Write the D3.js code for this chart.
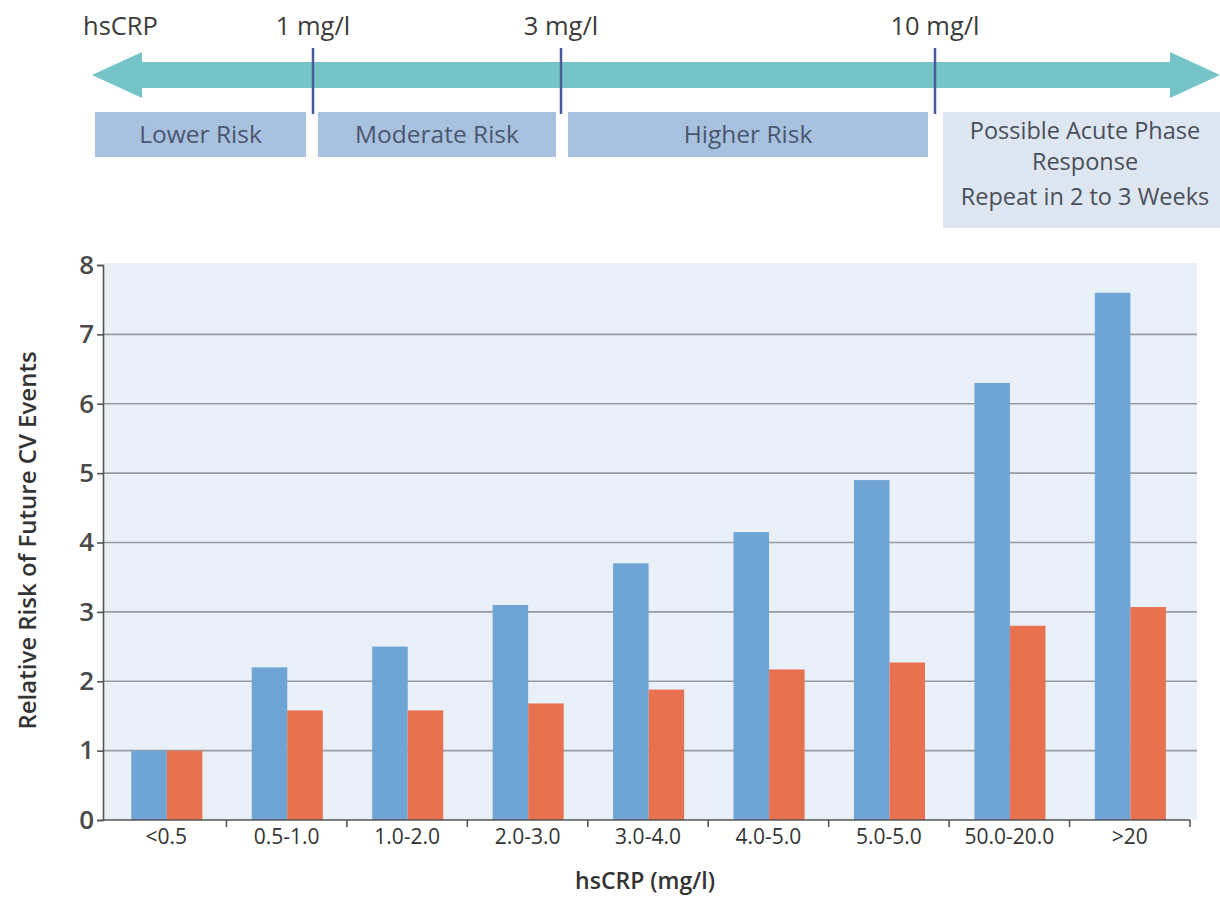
<!DOCTYPE html>
<html>
<head>
<meta charset="utf-8">
<script src="https://cdn.jsdelivr.net/npm/d3@7"></script>
<style>
  html, body { margin: 0; padding: 0; background: #fff; }
  svg { display: block; font-family: "Open Sans", "Noto Sans", sans-serif; }
</style>
</head>
<body>
<div id="chart"></div>
<script>
// hsCRP categories and relative risk series
const categories = ["<0.5", "0.5-1.0", "1.0-2.0", "2.0-3.0", "3.0-4.0", "4.0-5.0", "5.0-5.0", "50.0-20.0", ">20"];
const seriesNames = ["blue", "red"];
const blueValues = [1.0, 2.2, 2.5, 3.1, 3.7, 4.15, 4.9, 6.3, 7.6];
const redValues  = [1.0, 1.58, 1.58, 1.68, 1.88, 2.17, 2.27, 2.8, 3.07];
const yTicks = [0, 1, 2, 3, 4, 5, 6, 7, 8];

// risk scale banner
const thresholds = ["1 mg/l", "3 mg/l", "10 mg/l"];
const riskZones = ["Lower Risk", "Moderate Risk", "Higher Risk"];
const acuteLines = ["Possible Acute Phase", "Response", "Repeat in 2 to 3 Weeks"];

const width = 1220, height = 898;
const colors = { blue: "#6fa5d5", red: "#e8714f" };
const textColor = "#3c3c3c";

const svg = d3.select("#chart").append("svg")
    .attr("width", width)
    .attr("height", height);

// ---- banner ----
const banner = svg.append("g");
const shaftTop = 62, shaftBot = 88, headTop = 52, headBot = 98;
const arrowL = 92, arrowR = 1220, headLen = 50;
const midY = (shaftTop + shaftBot) / 2;
const ap = d3.path();
ap.moveTo(arrowL, midY);
ap.lineTo(arrowL + headLen, headTop);
ap.lineTo(arrowL + headLen, shaftTop);
ap.lineTo(arrowR - headLen, shaftTop);
ap.lineTo(arrowR - headLen, headTop);
ap.lineTo(arrowR, midY);
ap.lineTo(arrowR - headLen, headBot);
ap.lineTo(arrowR - headLen, shaftBot);
ap.lineTo(arrowL + headLen, shaftBot);
ap.lineTo(arrowL + headLen, headBot);
ap.closePath();
banner.append("path").attr("d", ap.toString()).attr("fill", "#74c4c8");

banner.append("text")
    .attr("x", 83).attr("y", 35)
    .attr("font-size", 25.5).attr("fill", textColor)
    .text("hsCRP");

const zoneBoxes = [[95, 306], [318, 556], [568, 928]];
const thresholdX = [313, 561, 935];

banner.selectAll("rect.zone")
  .data(riskZones)
  .join("rect")
    .attr("class", "zone")
    .attr("x", (d, i) => zoneBoxes[i][0])
    .attr("y", 112)
    .attr("width", (d, i) => zoneBoxes[i][1] - zoneBoxes[i][0])
    .attr("height", 45)
    .attr("fill", "#a8c1df");

banner.selectAll("text.zone")
  .data(riskZones)
  .join("text")
    .attr("class", "zone")
    .attr("x", (d, i) => (zoneBoxes[i][0] + zoneBoxes[i][1]) / 2)
    .attr("y", 143)
    .attr("text-anchor", "middle")
    .attr("font-size", 24.5)
    .attr("fill", "#4a5770")
    .text(d => d);

banner.append("rect")
    .attr("x", 943).attr("y", 112)
    .attr("width", 277).attr("height", 116)
    .attr("fill", "#dde6f1");

banner.selectAll("text.acute")
  .data(acuteLines)
  .join("text")
    .attr("class", "acute")
    .attr("x", 1085)
    .attr("y", (d, i) => [139, 170, 205][i])
    .attr("text-anchor", "middle")
    .attr("font-size", 23.5)
    .attr("fill", "#4a4f5a")
    .text(d => d);

banner.selectAll("line.thr")
  .data(thresholds)
  .join("line")
    .attr("class", "thr")
    .attr("x1", (d, i) => thresholdX[i]).attr("x2", (d, i) => thresholdX[i])
    .attr("y1", 48).attr("y2", 114)
    .attr("stroke", "#4b5a98")
    .attr("stroke-width", 2.5);

banner.selectAll("text.thr")
  .data(thresholds)
  .join("text")
    .attr("class", "thr")
    .attr("x", (d, i) => thresholdX[i])
    .attr("y", 35)
    .attr("text-anchor", "middle")
    .attr("font-size", 25.5)
    .attr("fill", textColor)
    .text(d => d);

// ---- bar chart ----
const axisX = 103, plotLeft = 106, plotRight = 1190, bgRight = 1197;
const x = d3.scaleBand().domain(categories).range([plotLeft, plotRight]).padding(0);
const xs = d3.scaleBand().domain(seriesNames)
    .range([x.bandwidth() * 0.21, x.bandwidth() * 0.80]).padding(0);
const y = d3.scaleLinear().domain([0, 8]).range([820, 265]);

svg.append("rect")
    .attr("x", axisX).attr("y", y(8) - 2)
    .attr("width", bgRight - axisX).attr("height", y(0) - y(8) + 2)
    .attr("fill", "#eaf0f8");

svg.append("g")
  .selectAll("line")
  .data(yTicks.filter(t => t > 0 && t < 8))
  .join("line")
    .attr("x1", axisX).attr("x2", bgRight)
    .attr("y1", d => y(d)).attr("y2", d => y(d))
    .attr("stroke", "#979aa2")
    .attr("stroke-width", 1.6);

const rows = categories.map((c, i) => ({ cat: c, blue: blueValues[i], red: redValues[i] }));

svg.append("g")
  .selectAll("g")
  .data(rows)
  .join("g")
    .attr("transform", d => `translate(${x(d.cat)},0)`)
  .selectAll("rect")
  .data(d => seriesNames.map(s => ({ key: s, value: d[s] })))
  .join("rect")
    .attr("x", d => xs(d.key))
    .attr("width", xs.bandwidth())
    .attr("y", d => y(d.value))
    .attr("height", d => y(0) - y(d.value))
    .attr("fill", d => colors[d.key]);

// y axis
const yAxis = svg.append("g")
    .attr("transform", `translate(${axisX},0)`)
    .call(d3.axisLeft(y).tickValues(yTicks).tickFormat(d3.format("d")).tickSize(6).tickPadding(3));
yAxis.select(".domain").attr("stroke", "#555").attr("stroke-width", 1.6);
yAxis.selectAll(".tick line").attr("stroke", "#555").attr("stroke-width", 1.6);
yAxis.selectAll(".tick text")
    .attr("font-size", 26)
    .attr("font-weight", 600)
    .attr("fill", "#4a4a4a")
    .attr("font-family", "\"Open Sans\", sans-serif");

// x axis
const xAxis = svg.append("g")
    .attr("transform", `translate(0,${y(0)})`)
    .call(d3.axisBottom(x).tickSize(0).tickPadding(9));
xAxis.select(".domain")
    .attr("d", `M${axisX},0H${plotRight}`)
    .attr("stroke", "#555").attr("stroke-width", 1.6);
xAxis.selectAll(".tick text")
    .attr("font-size", 21)
    .attr("fill", "#333")
    .attr("font-family", "\"Open Sans\", sans-serif");

// boundary ticks between categories
svg.append("g")
  .selectAll("line")
  .data(categories.slice(1).concat(["__end"]))
  .join("line")
    .attr("x1", d => d === "__end" ? plotRight : x(d))
    .attr("x2", d => d === "__end" ? plotRight : x(d))
    .attr("y1", y(0)).attr("y2", y(0) + 7)
    .attr("stroke", "#555")
    .attr("stroke-width", 1.6);

// axis titles
svg.append("text")
    .attr("x", (plotLeft + plotRight) / 2 - 3)
    .attr("y", 889)
    .attr("text-anchor", "middle")
    .attr("font-size", 23)
    .attr("font-weight", 600)
    .attr("fill", "#333")
    .text("hsCRP (mg/l)");

svg.append("text")
    .attr("transform", `translate(36,${(y(0) + y(8)) / 2 - 2}) rotate(-90)`)
    .attr("text-anchor", "middle")
    .attr("font-size", 24)
    .attr("font-weight", 600)
    .attr("fill", "#333")
    .text("Relative Risk of Future CV Events");
</script>
</body>
</html>
